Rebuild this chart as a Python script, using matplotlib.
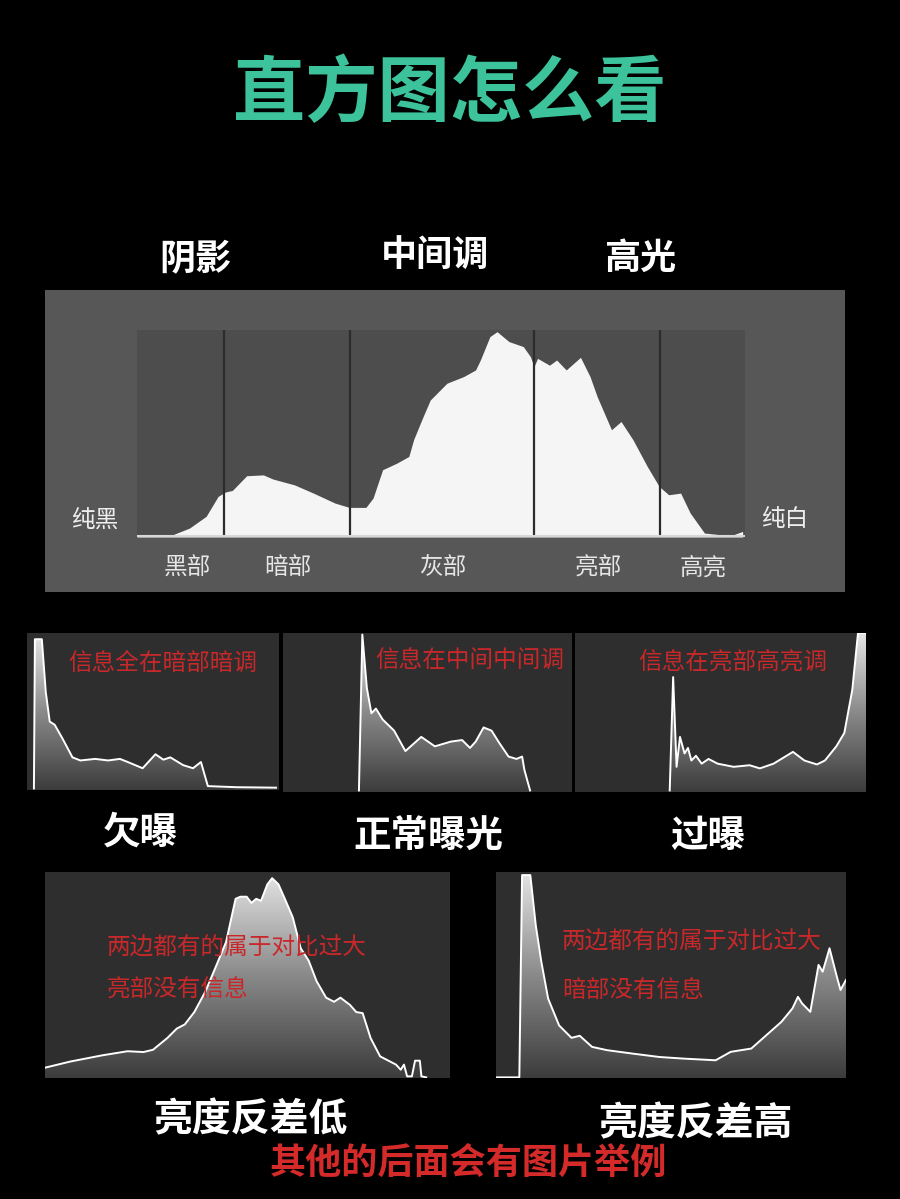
import numpy as np
import matplotlib.pyplot as plt
from matplotlib.colors import LinearSegmentedColormap

plt.rcParams['font.family'] = ['Noto Sans CJK SC', 'DejaVu Sans']

W, H = 900, 1199

# main histogram (brightness level 0-255, relative count %)
main_levels = [0, 15, 22, 29, 34, 37, 40, 46, 53, 57, 66, 74, 83, 89, 96, 99, 103, 109, 114, 116,
               120, 123, 130, 137, 142, 144, 148, 151, 156, 162, 165, 166.5, 168, 173, 176, 180,
               186, 190, 193, 199, 203, 208, 214, 219, 223, 228, 232, 238, 249, 254]
main_counts = [0.3, 1.1, 4.3, 10, 19.6, 21.7, 22.5, 29.6, 30, 28, 25.2, 21.2, 16.4, 14.3, 14.3, 18.8,
               32.5, 35.7, 38.9, 47, 58.2, 66.2, 74.3, 77.5, 80.7, 85.5, 96.8, 99.2, 94.4, 92, 87.1,
               82.3, 86.3, 83, 85.5, 80.7, 86.8, 77.5, 67.8, 51.8, 55.8, 47, 34.1, 24.4, 20.4, 21.2,
               11.6, 1.9, 0.6, 2.7]
zone_edges = [36.5, 89.5, 166.5, 219.5]
zone_names = ['黑部', '暗部', '灰部', '亮部', '高亮']
tone_names = ['阴影', '中间调', '高光']

# exposure examples
under_levels = [7, 8, 15, 19, 23, 28, 36, 46, 54, 69, 82, 94, 102, 117, 130, 138, 145, 158, 168,
                176, 183, 212, 252]
under_counts = [0, 96, 96, 62, 43, 41, 32, 20, 18, 19, 18, 19, 17, 13, 22, 18.5, 20, 15, 13, 17,
                1.5, 0.8, 0.5]
normal_levels = [67, 70, 74, 78, 82, 88, 98, 108, 122, 134, 148, 158, 165, 170, 177, 184, 191, 199,
                 206, 211, 213, 218]
normal_counts = [0, 99, 65, 49, 52, 45, 38, 25, 34, 28, 31, 32, 27, 31, 40, 38, 30, 21.5, 20, 21.5,
                 13, 0]
over_levels = [83, 86, 89, 92, 96, 99, 102, 106, 111, 117, 125, 139, 153, 162, 174, 191, 201, 212,
               219, 229, 236, 243, 248, 255]
over_counts = [0, 72, 15, 34, 23.5, 27, 19, 22, 17, 20, 17, 15, 16, 14, 17, 24.5, 19, 16.5, 19, 28,
               36.5, 64, 100, 100]

# contrast examples
low_levels = [0, 16, 36, 52, 62, 68, 77, 83, 88, 94, 101, 107, 114, 120, 123, 127, 130, 133, 136,
              140, 143, 147, 151, 156, 161, 166, 171, 177, 182, 186, 192, 196, 200, 205, 211, 221,
              224, 226, 228, 231, 233, 236, 237, 240]
low_counts = [5, 8, 11, 13, 12.6, 13.7, 19.4, 24, 26, 32, 42, 53, 66, 87, 88, 88, 85, 87, 86, 94, 97,
              94, 87, 78, 63, 57, 47, 39, 37, 39, 35.5, 32, 31.5, 19.4, 10.5, 6.5, 4, 6.5, 0.8, 0.8,
              8.4, 8.4, 0.8, 0.3]
high_levels = [0, 17, 19, 25, 29, 33, 38, 46, 55, 61, 70, 81, 100, 119, 137, 160, 171, 186, 197, 208,
               216, 220, 223, 229, 235, 238, 243, 248, 251, 255]
high_counts = [0.3, 0.3, 98.5, 98.5, 74, 56.5, 38.5, 25.5, 19.5, 20.5, 15.1, 13.5, 11.8, 10.2, 9.4,
               8.6, 12.7, 14.3, 20.8, 27.3, 33.8, 39.4, 36.2, 32.1, 54.9, 51.6, 63, 50, 42.7, 47.6]

title_color = '#3cc39b'
red = '#c8282a'
grad_cmap = LinearSegmentedColormap.from_list('g', ['#3c3c3c', '#8a8a8a', '#e6e6e6'])


def rect(x0, y0, x1, y1):
    return [x0 / W, 1 - y1 / H, (x1 - x0) / W, (y1 - y0) / H]


def ftext(x, y, s, **kw):
    kw.setdefault('ha', 'center')
    kw.setdefault('va', 'center')
    fig.text(x / W, 1 - y / H, s, **kw)


def clean(ax):
    ax.set_xticks([])
    ax.set_yticks([])
    for sp in ax.spines.values():
        sp.set_visible(False)


def grad_hist(box, levels, counts, ylo):
    ax = fig.add_axes(rect(*box))
    ax.set_facecolor('#2e2e2e')
    ax.set_xlim(0, 255)
    ax.set_ylim(ylo, 100)
    poly = ax.fill_between(levels, counts, ylo, color='none', lw=0)
    grad = np.linspace(0, 1, 256).reshape(-1, 1)
    im = ax.imshow(grad, extent=[0, 255, ylo, 100], origin='lower', aspect='auto',
                   cmap=grad_cmap, zorder=1)
    im.set_clip_path(poly.get_paths()[0], ax.transData)
    ax.plot(levels, counts, color='white', lw=1.4, zorder=2)
    clean(ax)
    return ax


fig = plt.figure(figsize=(W / 100, H / 100), dpi=100, facecolor='black')

ftext(450, 95, '直方图怎么看', color=title_color, fontsize=52, fontweight='bold')
for x, y, s in zip([195, 435, 640], [260, 255, 258], tone_names):
    ftext(x, y, s, color='white', fontsize=26, fontweight='bold')

# main panel
bg = fig.add_axes(rect(45, 290, 845, 592))
bg.set_facecolor('#575757')
clean(bg)
ax = fig.add_axes(rect(137, 330, 745, 537))
ax.set_facecolor('#4d4d4d')
ax.set_xlim(0, 255)
ax.set_ylim(0, 100)
ax.fill_between(main_levels, main_counts, 0, color='#f5f5f5', lw=0, zorder=1)
for e in zone_edges:
    ax.axvline(e, color='#2c2c2c', lw=1.6, zorder=2)
ax.axhline(0.5, color='#d8d8d8', lw=1.5, zorder=2)
clean(ax)
ftext(95, 520, '纯黑', color='#eeeeee', fontsize=17)
ftext(785, 520, '纯白', color='#eeeeee', fontsize=17)
for x, s in zip([187, 288, 443, 598, 703], zone_names):
    ftext(x, 568, s, color='#e6e6e6', fontsize=17)

# exposure row
grad_hist((27, 633, 279, 790), under_levels, under_counts, -1)
grad_hist((283, 633, 572, 792), normal_levels, normal_counts, -1)
grad_hist((575, 633, 866, 792), over_levels, over_counts, -1)
ftext(163, 664, '信息全在暗部暗调', color=red, fontsize=17, fontweight='medium')
ftext(470, 660, '信息在中间中间调', color=red, fontsize=17, fontweight='medium')
ftext(733, 662, '信息在亮部高亮调', color=red, fontsize=17, fontweight='medium')
for x, y, s in zip([140, 428, 708], [832, 835, 835], ['欠曝', '正常曝光', '过曝']):
    ftext(x, y, s, color='white', fontsize=27, fontweight='bold')

# contrast row
grad_hist((45, 872, 450, 1078), low_levels, low_counts, 0)
grad_hist((496, 872, 846, 1078), high_levels, high_counts, 0)
ftext(107, 948, '两边都有的属于对比过大', color=red, fontsize=17, ha='left', fontweight='medium')
ftext(107, 990, '亮部没有信息', color=red, fontsize=17, ha='left', fontweight='medium')
ftext(562, 942, '两边都有的属于对比过大', color=red, fontsize=17, ha='left', fontweight='medium')
ftext(562, 990, '暗部没有信息', color=red, fontsize=17, ha='left', fontweight='medium')
ftext(250, 1120, '亮度反差低', color='white', fontsize=28, fontweight='bold')
ftext(695, 1124, '亮度反差高', color='white', fontsize=28, fontweight='bold')
ftext(468, 1163, '其他的后面会有图片举例', color='#d42a2a', fontsize=26, fontweight='bold')

fig.savefig('out.png', dpi=100, facecolor='black')
